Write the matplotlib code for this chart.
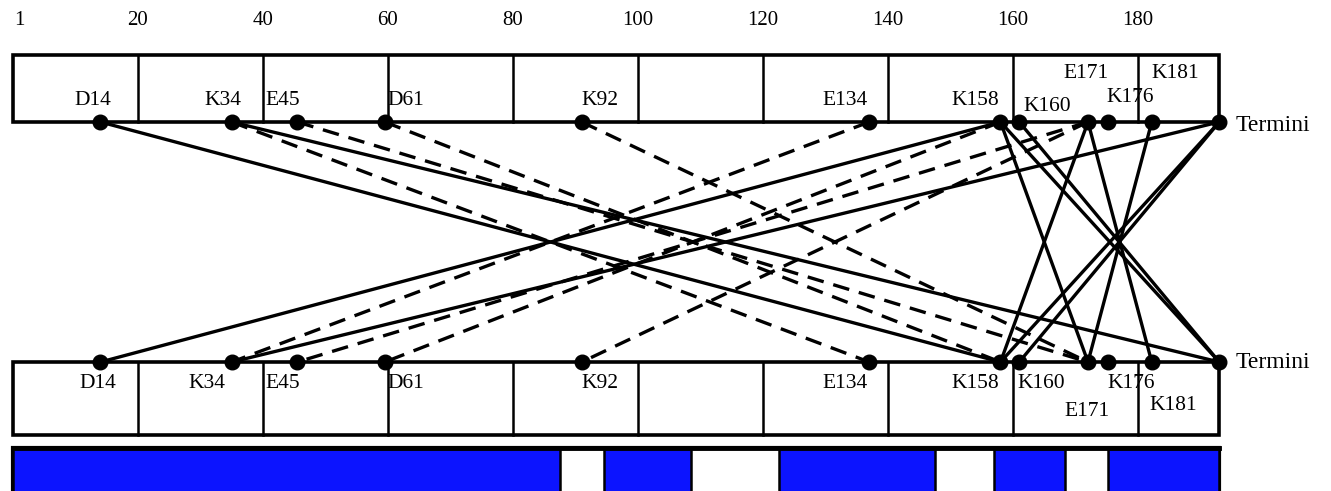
import matplotlib.pyplot as plt
from matplotlib.patches import Rectangle

# residue ruler
ruler_ticks = [1, 20, 40, 60, 80, 100, 120, 140, 160, 180]
seq_end = 193
domain_edges = [20, 40, 60, 80, 100, 120, 140, 160, 180]

# crosslink sites (position along the sequence)
sites = ['D14', 'K34', 'E45', 'D61', 'K92', 'E134', 'K158', 'K160',
         'E171', 'K176', 'K181', 'Termini']
site_pos = [14, 35, 45.5, 59.5, 91, 137, 158, 161, 172, 175.2, 182.2, 193]

# links between sites, solid and dashed
solid_links = [('D14', 'K158'), ('K34', 'Termini'), ('K158', 'E171'),
               ('K158', 'Termini'), ('K160', 'Termini'), ('E171', 'K181')]
dashed_links = [('K34', 'E134'), ('E45', 'E171'), ('D61', 'K158'),
                ('K92', 'E171')]

# shaded stretches of the lower bar
blue_start = [0, 94.5, 122.5, 157, 175.2]
blue_end = [87.5, 108.5, 147.5, 168.3, 193]

pos = dict(zip(sites, site_pos))

# label placement: (x, y) for the upper row and the lower row
top_lab = {'D14': (12.8, 100), 'K34': (33.6, 100), 'E45': (43.2, 100),
           'D61': (62.9, 100), 'K92': (93.9, 100), 'E134': (133.1, 100),
           'K158': (154, 100), 'K160': (165.4, 106), 'E171': (171.7, 73),
           'K176': (178.7, 97), 'K181': (186, 73)}
bot_lab = {'D14': (13.6, 383), 'K34': (31, 383), 'E45': (43.2, 383),
           'D61': (62.9, 383), 'K92': (93.9, 383), 'E134': (133.1, 383),
           'K158': (154, 383), 'K160': (164.6, 383), 'K176': (178.9, 383),
           'E171': (171.9, 411), 'K181': (185.7, 405)}

plt.rcParams['font.family'] = 'Liberation Serif'
fig = plt.figure(figsize=(13.31, 4.91), dpi=100)
ax = fig.add_axes([0, 0, 1, 1])
ax.set_xlim(-13 / 6.25, (1331 - 13) / 6.25)
ax.set_ylim(491, 0)
ax.axis('off')

y_top = (55, 122)
y_bot = (362, 435)
y_bar = 448

for t in ruler_ticks:
    ax.text(t, 20, str(t), ha='center', va='center', fontsize=15)

# the two rows of boxes
for y0, y1 in (y_top, y_bot):
    ax.add_patch(Rectangle((0, y0), seq_end, y1 - y0, fill=False,
                           lw=2.6, ec='black', zorder=2))
    for e in domain_edges:
        ax.plot([e, e], [y0, y1], color='black', lw=1.8, zorder=2)

# crosslinks drawn in both directions
for links, ls in ((solid_links, '-'), (dashed_links, (0, (5, 3)))):
    for a, b in links:
        for p, q in ((a, b), (b, a)):
            ax.plot([pos[p], pos[q]], [y_top[1], y_bot[0]], color='black',
                    lw=2.4, linestyle=ls, zorder=3)

ax.plot(site_pos, [y_top[1]] * len(site_pos), 'o', color='black', ms=10.5,
        zorder=4)
ax.plot(site_pos, [y_bot[0]] * len(site_pos), 'o', color='black', ms=10.5,
        zorder=4)

for s, (x, y) in top_lab.items():
    ax.text(x, y, s, ha='center', va='center', fontsize=15.5, zorder=5)
for s, (x, y) in bot_lab.items():
    ax.text(x, y, s, ha='center', va='center', fontsize=15.5, zorder=5)
ax.text(pos['Termini'] + 2.6, y_top[1] + 3, 'Termini', ha='left',
        va='center', fontsize=17)
ax.text(pos['Termini'] + 2.6, y_bot[0], 'Termini', ha='left',
        va='center', fontsize=17)

# lower bar
ax.add_patch(Rectangle((0, y_bar), seq_end, 60, fc='white', ec='black',
                       lw=3, zorder=2))
for s0, s1 in zip(blue_start, blue_end):
    ax.add_patch(Rectangle((s0, y_bar), s1 - s0, 60, fc='#0c14ff',
                           ec='black', lw=1.8, zorder=3))
ax.plot([0, seq_end], [y_bar, y_bar], color='black', lw=3.5, zorder=4)

fig.savefig('out.png', dpi=100)
